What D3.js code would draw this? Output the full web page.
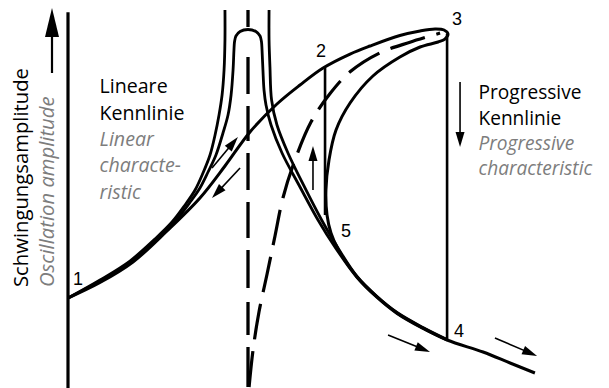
<!DOCTYPE html>
<html><head><meta charset="utf-8">
<script src="https://cdn.jsdelivr.net/npm/d3@7"></script>
<style>html,body{margin:0;padding:0;background:#fff;}svg{display:block;}</style>
</head><body>
<svg id="c" width="609" height="388"></svg>
<script>
// ---------- DATA (frequency ratio eta, amplitude A) ----------
const undampedLeft = [[0,2.368],[0.178,2.842],[0.344,3.342],[0.483,3.921],[0.578,4.368],[0.65,4.816],[0.706,5.211],[0.75,5.658],[0.789,6.132],[0.817,6.658],[0.839,7.184],[0.856,7.711],[0.867,8.368],[0.872,9.158],[0.872,9.947]];
const undampedRight = [[1.117,9.947],[1.117,9.158],[1.122,8.447],[1.131,7.579],[1.161,6.921],[1.222,6.184],[1.311,5.316],[1.406,4.447],[1.5,3.684],[1.606,2.934],[1.717,2.408],[1.828,1.987],[1.972,1.592],[2.106,1.276]];
const dampedCurve = [[0,2.368],[0.178,2.816],[0.356,3.329],[0.5,3.934],[0.606,4.447],[0.683,4.921],[0.733,5.263],[0.778,5.684],[0.822,6.132],[0.861,6.711],[0.889,7.184],[0.906,7.711],[0.917,8.368],[0.922,8.895],[0.925,9.105],[0.933,9.263],[0.956,9.382],[1.0,9.434],[1.044,9.382],[1.067,9.263],[1.075,9.105],[1.078,8.895],[1.083,8.368],[1.089,7.842],[1.1,7.447],[1.128,6.921],[1.189,6.184],[1.289,5.289],[1.389,4.421],[1.483,3.711],[1.606,2.908],[1.717,2.382],[1.828,1.961],[1.972,1.566],[2.106,1.263]];
const progressiveCurve = [[0,2.368],[0.178,2.776],[0.361,3.316],[0.55,4.132],[0.733,5.0],[0.872,5.842],[1.011,6.737],[1.161,7.474],[1.289,7.974],[1.417,8.421],[1.567,8.789],[1.678,9.0],[1.844,9.276],[1.956,9.395],[2.039,9.447],[2.089,9.421],[2.111,9.316],[2.094,9.184],[2.056,9.105],[1.956,8.974],[1.844,8.711],[1.694,8.211],[1.567,7.5],[1.489,6.789],[1.45,6.0],[1.433,5.211],[1.439,4.553],[1.461,4.079],[1.5,3.658],[1.606,2.921],[1.717,2.395],[1.828,1.974],[1.972,1.579],[2.106,1.263],[2.306,0.947],[2.456,0.658],[2.594,0.395]];
const progressiveBackbone = [[1.006,0.026],[1.028,1],[1.061,2],[1.106,3],[1.15,4],[1.194,5],[1.261,6],[1.35,7],[1.456,7.75],[1.567,8.32],[1.733,8.82],[1.9,9.1],[2.067,9.34]];
const linearBackbone = [[1.0,0.026],[1.0,9.947]];
const jumpUp = [[1.428,4.553],[1.428,8.421]];      // 5 -> 2
const jumpDown = [[2.106,9.316],[2.106,1.263]];    // 3 -> 4
const arrows = [ // [eta0, A0, eta1, A1]
  [0.8,5.789,0.944,6.605],
  [0.956,5.789,0.8,5.0],
  [1.361,5.211,1.361,6.368],
  [2.178,8.053,2.178,6.342],
  [1.778,1.395,2.011,0.947],
  [2.372,1.316,2.606,0.842]
];
const pointNames = ["1","2","3","4","5"];
const pointEta = [0, 1.428, 2.106, 2.106, 1.489];
const pointAmp = [2.368, 8.421, 9.316, 1.263, 3.789];
const linearTitle = ["Lineare","Kennlinie"];
const linearTitleEn = ["Linear","characte-","ristic"];
const progTitle = ["Progressive","Kennlinie"];
const progTitleEn = ["Progressive","characteristic"];
const axisTitle = "Schwingungsamplitude";
const axisTitleEn = "Oscillation amplitude";

// ---------- CHART ----------
const svg = d3.select("#c");
const x = d3.scaleLinear().domain([0, 2.5]).range([68, 518]);
const y = d3.scaleLinear().domain([0, 10]).range([388, 8]);
const line = d3.line().x(d => x(d[0])).y(d => y(d[1])).curve(d3.curveCatmullRom.alpha(0.5));
const straight = d3.line().x(d => x(d[0])).y(d => y(d[1]));
const F = "'Open Sans','Noto Sans',sans-serif";
const GRAY = "#7d7d7d";

// axis
const axScale = y.copy().domain([0, 9.9]).range([y(0), y(9.9)]);
const axG = svg.append("g").attr("transform", `translate(${x(0) - 0.5},0)`)
  .call(d3.axisLeft(axScale).tickValues([]).tickSizeOuter(0));
axG.select(".domain").attr("stroke", "#000").attr("stroke-width", 3.2);

function arrow(x0, y0, x1, y1, len, wid, sw) {
  const dx = x1 - x0, dy = y1 - y0, L = Math.hypot(dx, dy);
  const ux = dx / L, uy = dy / L;
  const bx = x1 - ux * len, by = y1 - uy * len;
  svg.append("line").attr("x1", x0).attr("y1", y0)
    .attr("x2", x1 - ux * len * 0.7).attr("y2", y1 - uy * len * 0.7)
    .attr("stroke", "#000").attr("stroke-width", sw);
  svg.append("path").attr("d",
    `M${x1},${y1}L${bx - uy * wid / 2},${by + ux * wid / 2}L${bx + uy * wid / 2},${by - ux * wid / 2}Z`)
    .attr("fill", "#000");
}
// y-axis arrow
arrow(x(0) - 16, y(8.29), x(0) - 16, y(10), 29, 14, 2.2);

const curves = svg.append("g").attr("fill", "none").attr("stroke", "#000");
curves.append("path").attr("d", line(undampedLeft)).attr("stroke-width", 2.8);
curves.append("path").attr("d", line(undampedRight)).attr("stroke-width", 2.8);
curves.append("path").attr("d", line(dampedCurve)).attr("stroke-width", 2.8);
curves.append("path").attr("d", line(progressiveCurve)).attr("stroke-width", 3);
curves.append("path").attr("d", straight(jumpUp)).attr("stroke-width", 2.6);
curves.append("path").attr("d", straight(jumpDown)).attr("stroke-width", 2.6);
curves.append("path").attr("d", straight(linearBackbone)).attr("stroke-width", 3.3)
  .attr("stroke-dasharray", "40 12 33 14 38 12 36 12 37 12 35 12 37 30 18");
curves.append("path").attr("d", line(progressiveBackbone)).attr("stroke-width", 3.2)
  .attr("stroke-dasharray", "36 12");

arrows.forEach(a => arrow(x(a[0]), y(a[1]), x(a[2]), y(a[3]), 15, 9, 1.6));

// point labels
const pOff = [[5, -13], [-9, -11], [5, -9], [7, -3], [5, -7]];
svg.append("g").selectAll("text").data(pointNames).join("text")
  .attr("x", (d, i) => x(pointEta[i]) + pOff[i][0])
  .attr("y", (d, i) => y(pointAmp[i]) + pOff[i][1])
  .attr("font-family", "'Liberation Sans',Arial,sans-serif")
  .attr("font-size", 18).attr("fill", "#000").text(d => d);

function fit(str, style, target) {
  const t = svg.append("text").attr("font-family", F).attr("font-size", 100)
    .attr("font-style", style).text(str);
  const w = t.node().getComputedTextLength(); t.remove();
  return 100 * target / w;
}
const sLeft = fit("Kennlinie", "normal", 85);
const sRight = fit("Progressive", "normal", 103);
const sAxis = fit(axisTitle, "normal", 219);

function block(x0, y0, step, size, lines, color, style) {
  svg.append("g").selectAll("text").data(lines).join("text")
    .attr("x", x0).attr("y", (d, i) => y0 + i * step)
    .attr("font-family", F).attr("font-size", size)
    .attr("font-style", style).attr("fill", color).text(d => d);
}
block(99.5, 93.3, 26.3, sLeft, linearTitle, "#000", "normal");
block(99.5, 93.3 + 2 * 26.3, 26.3, sLeft, linearTitleEn, GRAY, "italic");
block(478.5, 99.3, 25.3, sRight, progTitle, "#000", "normal");
block(478.5, 99.3 + 2 * 25.3, 25.3, sRight, progTitleEn, GRAY, "italic");

svg.append("text").attr("transform", "translate(28,287) rotate(-90)")
  .attr("font-family", F).attr("font-size", sAxis).attr("fill", "#000").text(axisTitle);
svg.append("text").attr("transform", "translate(54,287) rotate(-90)")
  .attr("font-family", F).attr("font-size", sAxis).attr("font-style", "italic")
  .attr("fill", GRAY).text(axisTitleEn);
</script>
</body></html>
